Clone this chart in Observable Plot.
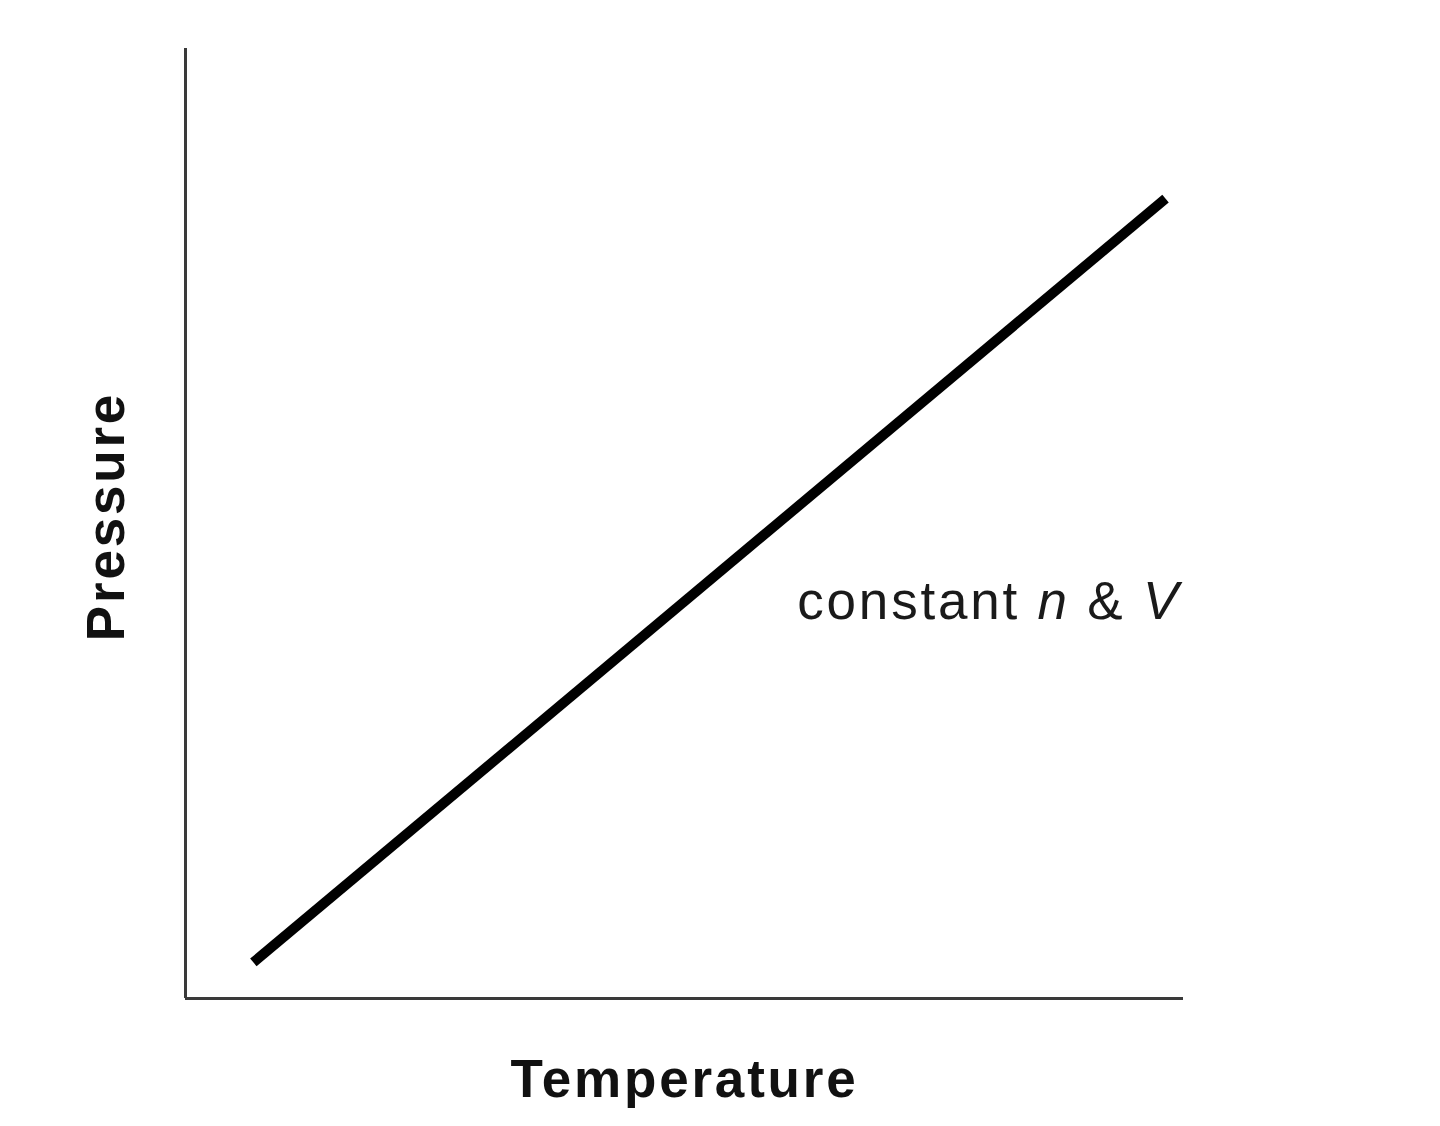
<!DOCTYPE html>
<html>
<head>
<meta charset="utf-8">
<script src="https://cdn.jsdelivr.net/npm/d3@7"></script>
<script src="https://cdn.jsdelivr.net/npm/@observablehq/plot@0.6"></script>
<style>
  html, body { margin: 0; padding: 0; background: #fff; }
  #chart svg { display: block; }
</style>
</head>
<body>
<div id="chart"></div>
<script>
// Data (arbitrary units, 0–100 on each axis)
const temperature = [6.8, 98.2];
const pressure = [3.8, 84.2];
const xLabel = "Temperature";
const yLabel = "Pressure";
const note = "constant n & V";
const noteX = [61.3];
const noteY = [41.7];

const series = temperature.map((t, i) => ({temperature: t, pressure: pressure[i]}));

const font = "'Liberation Sans', Arial, Helvetica, sans-serif";

const chart = Plot.plot({
  width: 1440,
  height: 1126,
  marginLeft: 185,
  marginRight: 257,
  marginTop: 48,
  marginBottom: 128,
  style: {background: "#fff", fontFamily: font},
  x: {domain: [0, 100], axis: null},
  y: {domain: [0, 100], axis: null},
  marks: [
    Plot.ruleX([0], {stroke: "#3a3a3a", strokeWidth: 3}),
    Plot.ruleY([0], {stroke: "#3a3a3a", strokeWidth: 3}),
    Plot.line(series, {x: "temperature", y: "pressure", stroke: "#000", strokeWidth: 10, strokeLinecap: "butt"}),
    Plot.text([note], {x: () => noteX[0], y: () => noteY[0], text: d => d, textAnchor: "start", lineAnchor: "middle", fontSize: 53, fill: "#1a1a1a", className: "note"}),
    Plot.text([xLabel], {frameAnchor: "bottom", textAnchor: "middle", lineAnchor: "middle", dy: 82, text: d => d, fontSize: 53, fontWeight: "bold", fill: "#111", className: "lab"}),
    Plot.text([yLabel], {frameAnchor: "left", textAnchor: "middle", lineAnchor: "middle", dx: -78, dy: -7, rotate: -90, text: d => d, fontSize: 53, fontWeight: "bold", fill: "#111", className: "lab"})
  ]
});

document.getElementById("chart").appendChild(chart);

d3.select(chart).selectAll("g.lab text, g.note text").attr("letter-spacing", "2.8px");

// Italicize the variables n and V in the annotation
d3.select(chart).selectAll("g.note text").each(function() {
  const t = d3.select(this);
  const parts = [["constant ", "normal"], ["n", "italic"], [" & ", "normal"], ["V", "italic"]];
  t.text(null);
  parts.forEach(([s, st]) => t.append("tspan").attr("font-style", st).text(s));
});
</script>
</body>
</html>
